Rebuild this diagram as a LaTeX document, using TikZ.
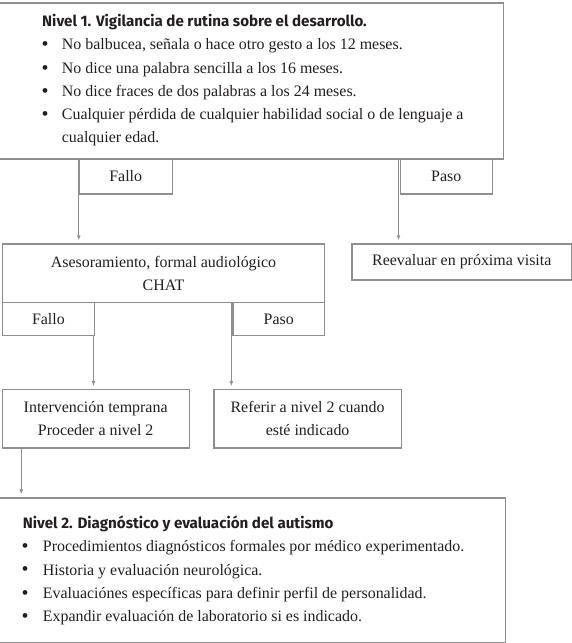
\documentclass[tikz,border=0pt]{standalone}
\usepackage{fontspec}
\setmainfont{Liberation Serif}
\newfontfamily\hdfont{Fira Sans}
\usetikzlibrary{arrows.meta}
\definecolor{ln}{HTML}{8F8F8F}
\definecolor{tx}{HTML}{231F20}
\newcommand{\bodyfnt}{\fontsize{16}{23.3}\selectfont}
\newcommand{\headfnt}{\hdfont\bfseries\fontsize{15.2}{23.3}\selectfont}
\newcommand{\blt}{\raisebox{-0.9bp}{\scalebox{1.25}{\textbullet}}}
\begin{document}
\begin{tikzpicture}[x=1bp,y=-1bp,
  box/.style={draw=ln, line width=1.2bp, rectangle, inner sep=0pt, anchor=north west,
    align=center, text=tx, font=\bodyfnt},
  line/.style={anchor=base west, inner sep=0pt, text=tx, font=\bodyfnt},
  head/.style={anchor=base west, inner sep=0pt, text=tx, font=\headfnt},
  arr/.style={draw=ln, line width=1.2bp, -{Latex[length=5bp,width=4bp]}}]
\useasboundingbox (0,0) rectangle (572,643);
% level 1 box
\node[box, minimum width=504.7bp, minimum height=155.8bp] (lvA) at (-2,2.5) {};
\node[head] (lvAh) at (42,26.7) {Nivel 1. Vigilancia de rutina sobre el desarrollo.};
\node[line] (lvA1) at (41.5,50) {\makebox[20.2bp][l]{\blt}No balbucea, señala o hace otro gesto a los 12 meses.};
\node[line] (lvA2) at (41.5,73.3) {\makebox[20.2bp][l]{\blt}No dice una palabra sencilla a los 16 meses.};
\node[line] (lvA3) at (41.5,96.5) {\makebox[20.2bp][l]{\blt}No dice fraces de dos palabras a los 24 meses.};
\node[line] (lvA4) at (41.5,119.7) {\makebox[20.2bp][l]{\blt}Cualquier pérdida de cualquier habilidad social o de lenguaje a};
\node[line] (lvA5) at (61.7,143) {cualquier edad.};
% labels
\node[box, minimum width=92.7bp, minimum height=35bp] (fA) at (78.8,158.3) {Fallo};
\node[box, minimum width=92.3bp, minimum height=35bp] (pA) at (399.5,158.3) {Paso};
% second row
\node[box, minimum width=322.2bp, minimum height=58.4bp] (ases) at (1.8,243.3) {Asesoramiento, formal audiológico\\CHAT};
\node[box, minimum width=219.7bp, minimum height=36bp] (reev) at (351.3,243.3) {Reevaluar en próxima visita};
\node[box, minimum width=92bp, minimum height=33.5bp] (fB) at (1.8,301.7) {Fallo};
\node[box, minimum width=91.6bp, minimum height=33.5bp] (pB) at (232.4,301.7) {Paso};
% third row
\node[box, minimum width=187.1bp, minimum height=58.3bp] (interv) at (1.5,389) {Intervención temprana\\Proceder a nivel 2};
\node[box, minimum width=187.2bp, minimum height=58.3bp] (refer) at (213.4,389) {Referir a nivel 2 cuando\\esté indicado};
% level 2 box
\node[box, minimum width=506.6bp, minimum height=144.4bp] (lvB) at (-2,497.3) {};
\node[head] (lvBh) at (22.7,528.3) {Nivel 2. Diagnóstico y evaluación del autismo};
\node[line] (lvB1) at (21.5,551.7) {\makebox[21.2bp][l]{\blt}Procedimientos diagnósticos formales por médico experimentado.};
\node[line] (lvB2) at (21.5,575) {\makebox[21.2bp][l]{\blt}Historia y evaluación neurológica.};
\node[line] (lvB3) at (21.5,598.3) {\makebox[21.2bp][l]{\blt}Evaluaciónes específicas para definir perfil de personalidad.};
\node[line] (lvB4) at (21.5,621.3) {\makebox[21.2bp][l]{\blt}Expandir evaluación de laboratorio si es indicado.};
% arrows
\draw[arr] (fA.north west) -- ([yshift=3bp]fA.north west |- ases.north);
\draw[arr] ([xshift=-1bp]pA.north west) -- ([xshift=-1bp,yshift=3bp]pA.north west |- reev.north);
\draw[arr] ([xshift=-1.5bp]fB.south east) -- ([xshift=-1.5bp,yshift=3bp]fB.south east |- interv.north);
\draw[arr] ([xshift=-1bp]pB.north west) -- ([xshift=-1bp,yshift=3bp]pB.north west |- refer.north);
\draw[arr] ([xshift=19.7bp]interv.south west) -- ([xshift=19.7bp,yshift=3bp]interv.south west |- lvB.north);
\end{tikzpicture}
\end{document}
